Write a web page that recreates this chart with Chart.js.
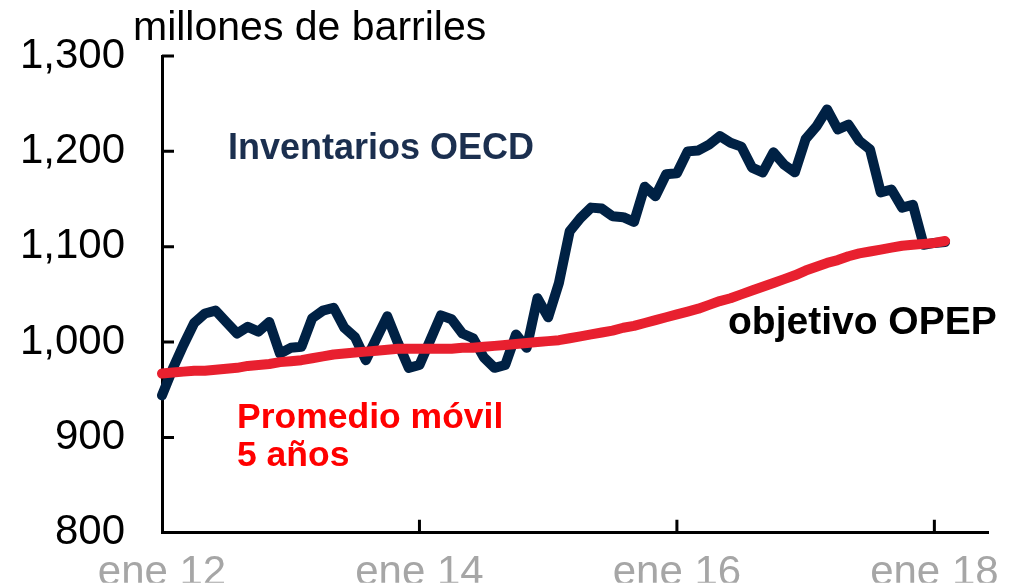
<!DOCTYPE html>
<html>
<head>
<meta charset="utf-8">
<script src="https://cdn.jsdelivr.net/npm/chart.js@4"></script>
<style>
    html, body { margin: 0; padding: 0; background: #fff; overflow: hidden; }
    #marco { position: relative; width: 1011px; height: 587px; }
    #grafico { position: absolute; left: 0; top: 0; }
    .nota { position: absolute; font-family: "Liberation Sans", Arial, sans-serif; white-space: nowrap; line-height: 1; }
    #titulo { left: 133px; top: 6px; font-size: 41px; color: #000; }
    #inventarios { left: 228px; top: 129px; font-size: 36px; font-weight: bold; color: #1b2f4f; }
    #objetivo { left: 728px; top: 301px; font-size: 39px; font-weight: bold; color: #000; }
    #promedio { left: 237px; top: 397px; font-size: 35.5px; font-weight: bold; color: #ff0000; line-height: 38px; }
</style>
</head>
<body>
<div id="marco">
    <canvas id="grafico" width="1011" height="587"></canvas>
    <div class="nota" id="titulo">millones de barriles</div>
    <div class="nota" id="inventarios">Inventarios OECD</div>
    <div class="nota" id="objetivo">objetivo OPEP</div>
    <div class="nota" id="promedio">Promedio móvil<br>5 años</div>
</div>
<script>
// meses de ene 12 a jun 18 (el eje llega un poco más allá del último dato)
const meses = ['ene', 'feb', 'mar', 'abr', 'may', 'jun', 'jul', 'ago', 'sep', 'oct', 'nov', 'dic'];
const anios = ['12', '13', '14', '15', '16', '17', '18'];
const categorias = [];
anios.forEach(a => meses.forEach(m => categorias.push(m + ' ' + a)));
categorias.length = 78;

const etiquetasX = ['ene 12', 'ene 14', 'ene 16', 'ene 18'];
const marcasY = [900, 1000, 1100, 1200, 1300];

// Inventarios OECD (millones de barriles), ene 12 - feb 18
const inventariosOECD = [
    944, 972, 997, 1020, 1030, 1033, 1021, 1009, 1016, 1011, 1021, 988,
    994, 995, 1025, 1033, 1036, 1015, 1005, 981, 1004, 1027, 999, 973,
    976, 1002, 1028, 1024, 1009, 1004, 984, 973, 976, 1008, 994, 1046,
    1026, 1062, 1116, 1130, 1141, 1140, 1132, 1131, 1126, 1163, 1153, 1176,
    1177, 1200, 1201, 1207, 1216, 1209, 1205, 1183, 1178, 1199, 1186, 1178,
    1213, 1226, 1244, 1223, 1228, 1211, 1202, 1157, 1160, 1141, 1144, 1102,
    1104, 1105
];

// Promedio móvil 5 años
const promedio5Anios = [
    967, 968, 969, 970, 970, 971, 972, 973, 975, 976, 977, 979,
    980, 981, 983, 985, 987, 988, 989, 990, 991, 992, 993, 993,
    993, 993, 993, 993, 994, 994, 995, 996, 997, 998, 999, 1000,
    1001, 1002, 1004, 1006, 1008, 1010, 1012, 1015, 1017, 1020, 1023, 1026,
    1029, 1032, 1035, 1039, 1043, 1046, 1050, 1054, 1058, 1062, 1066, 1070,
    1075, 1079, 1083, 1086, 1090, 1093, 1095, 1097, 1099, 1101, 1102, 1103,
    1104, 1106
];

// marcas de los ejes hacia dentro
const marcasInternas = {
    id: 'marcasInternas',
    afterDraw(chart) {
        const { ctx, chartArea, scales: { x, y } } = chart;
        ctx.save();
        ctx.strokeStyle = '#000';
        ctx.lineWidth = 3;
        ctx.beginPath();
        marcasY.forEach(v => {
            const py = y.getPixelForValue(v);
            ctx.moveTo(chartArea.left, py);
            ctx.lineTo(chartArea.left + 12, py);
        });
        etiquetasX.slice(1).forEach(lab => {
            const px = x.getPixelForValue(categorias.indexOf(lab));
            ctx.moveTo(px, chartArea.bottom);
            ctx.lineTo(px, chartArea.bottom - 13);
        });
        ctx.stroke();
        ctx.restore();
    }
};

new Chart(document.getElementById('grafico'), {
    type: 'line',
    data: {
        labels: categorias,
        datasets: [{
            label: 'Promedio móvil 5 años',
            data: promedio5Anios,
            borderColor: '#e8202f',
            borderWidth: 10,
            pointRadius: 0,
            borderCapStyle: 'round',
            borderJoinStyle: 'round',
            tension: 0
        }, {
            label: 'Inventarios OECD',
            data: inventariosOECD,
            borderColor: '#002144',
            borderWidth: 10,
            pointRadius: 0,
            borderCapStyle: 'round',
            borderJoinStyle: 'round',
            tension: 0
        }]
    },
    options: {
        responsive: false,
        animation: false,
        layout: { padding: { top: 56, right: 23, left: 0, bottom: 0 } },
        plugins: {
            legend: { display: false },
            tooltip: { enabled: false },
            title: { display: false }
        },
        scales: {
            x: {
                grid: { display: false },
                border: { display: true, color: '#000', width: 3 },
                afterFit: s => { s.height = 50; },
                ticks: {
                    autoSkip: false,
                    maxRotation: 0,
                    padding: 7,
                    color: '#a6a6a6',
                    font: { family: 'Liberation Sans', size: 42 },
                    callback: function (val) {
                        const lab = this.getLabelForValue(val);
                        return etiquetasX.includes(lab) ? lab : '';
                    }
                }
            },
            y: {
                min: 800,
                max: 1300,
                grid: { display: false },
                border: { display: true, color: '#000', width: 3 },
                afterFit: s => { s.width = 162; },
                ticks: {
                    stepSize: 100,
                    padding: 29,
                    color: '#000',
                    font: { family: 'Liberation Sans', size: 42 },
                    callback: v => v.toLocaleString('en-US')
                }
            }
        }
    },
    plugins: [marcasInternas]
});
</script>
</body>
</html>
